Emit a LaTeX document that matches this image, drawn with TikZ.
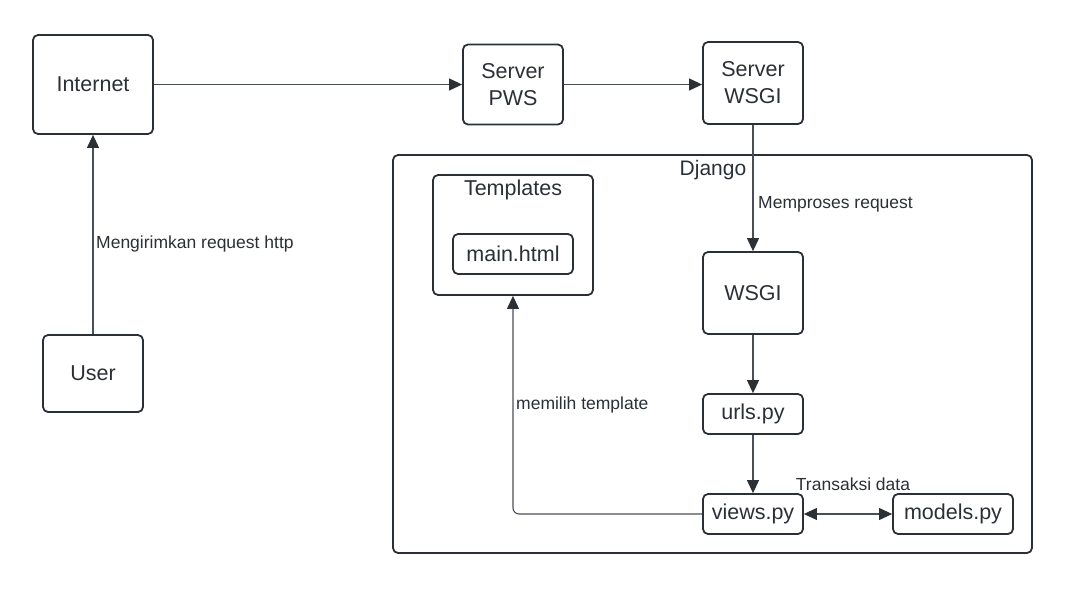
\documentclass[tikz,border=0pt]{standalone}
\usepackage{fontspec}
\setmainfont{Liberation Sans}
\usetikzlibrary{arrows.meta}
\definecolor{ink}{HTML}{2B2F36}
\definecolor{wire}{HTML}{4A4F57}

\begin{document}
\begin{tikzpicture}[x=1pt,y=1pt,>={Triangle[length=13pt,width=12pt,color=ink]}]
	\tikzstyle{every node}+=[inner sep=0pt]
	\tikzstyle{box}=[draw=ink, line width=1.8pt, rounded corners=5pt, align=center, text=ink, font=\fontsize{21.5}{27}\selectfont]
	\tikzstyle{lbl}=[text=ink, font=\fontsize{17.5}{20}\selectfont]
	\tikzstyle{link}=[draw=wire, line width=1.1pt]
	\useasboundingbox (0,0) rectangle (1072,-594);
	\node [box, minimum width=120pt, minimum height=99pt] (internet) at (93,-84.5) {Internet};
	\node [box, minimum width=100pt, minimum height=80pt] (pws) at (513,-84.5) {Server\\PWS};
	\node [box, minimum width=100pt, minimum height=82pt] (serverwsgi) at (753,-83) {Server\\WSGI};
	\node [box, minimum width=100pt, minimum height=77pt] (user) at (93,-373.5) {User};
	\node [box, minimum width=639pt, minimum height=398pt] (django) at (712.5,-354) {};
	\node [text=ink, font=\fontsize{21}{25}\selectfont] (djangolbl) at (713,-170) {Django};
	\node [box, minimum width=160pt, minimum height=120pt] (templates) at (513,-235) {};
	\node [text=ink, font=\fontsize{21.5}{25}\selectfont] (templateslbl) at (513,-190) {Templates};
	\node [box, minimum width=120pt, minimum height=40pt] (mainhtml) at (513,-254) {main.html};
	\node [box, minimum width=100pt, minimum height=82pt] (wsgi) at (753,-293) {WSGI};
	\node [box, minimum width=100pt, minimum height=40pt] (urls) at (753,-414) {urls.py};
	\node [box, minimum width=100pt, minimum height=40pt] (views) at (753,-514) {views.py};
	\node [box, minimum width=120pt, minimum height=40pt] (models) at (953,-514) {models.py};
	% connectors
	\draw [link, ->] (user) -- (internet);
	\node [lbl, anchor=west] (sendlbl) at (96,-244) {Mengirimkan request http};
	\draw [link, ->] (internet.east |- 0,-84.5) -- (pws.west |- 0,-84.5);
	\draw [link, ->] (pws.east |- 0,-84.5) -- (serverwsgi.west |- 0,-84.5);
	\draw [link, ->] (serverwsgi) -- (wsgi);
	\node [lbl, anchor=west] (proclbl) at (758,-204) {Memproses request};
	\draw [link, ->] (wsgi) -- (urls);
	\draw [link, ->] (urls) -- (views);
	\draw [link, <->] (views) -- (models);
	\node [lbl] (datalbl) at (853,-484) {Transaksi data};
	\draw [link, ->, rounded corners=6pt] (views.west) -| (templates.south);
	\node [lbl, anchor=west] (picklbl) at (516,-405) {memilih template};
\end{tikzpicture}
\end{document}
